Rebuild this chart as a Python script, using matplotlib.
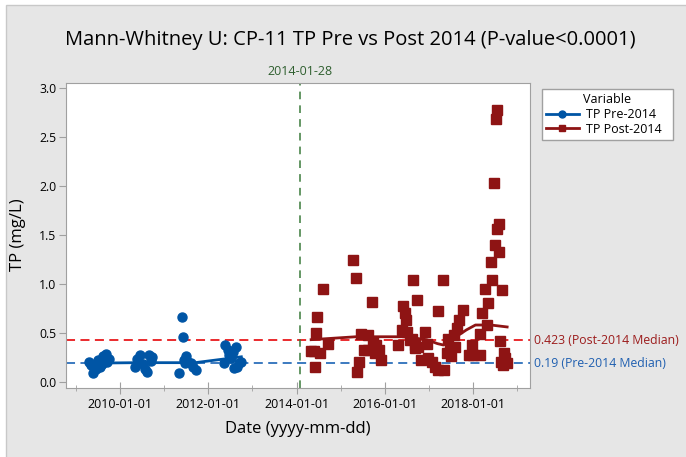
import matplotlib
matplotlib.use("Agg")
import matplotlib.pyplot as plt
import matplotlib.dates as mdates
import matplotlib.transforms as mtransforms
from matplotlib.lines import Line2D
from matplotlib.patches import Rectangle
import pandas as pd

plt.rcParams['font.family'] = ['Open Sans', 'DejaVu Sans']

# pre-2014 samples (blue circles)
pre_dates = ["2009-04-20", "2009-05-08", "2009-05-27", "2009-06-14", "2009-07-01",
             "2009-07-20", "2009-08-10", "2009-09-06", "2009-09-20", "2009-10-02", "2009-08-08",
             "2010-05-05", "2010-05-18", "2010-06-14", "2010-07-09", "2010-07-31",
             "2010-08-14", "2010-08-29", "2010-09-13", "2010-09-24",
             "2011-05-01", "2011-05-27", "2011-06-03", "2011-06-14", "2011-07-01",
             "2011-07-20", "2011-08-08", "2011-08-26", "2011-09-22", "2011-06-21",
             "2012-05-08", "2012-05-19", "2012-06-14", "2012-06-25", "2012-07-09",
             "2012-07-31", "2012-08-14", "2012-08-29", "2012-09-13", "2012-10-01", "2012-07-20"]
pre_vals = [0.20, 0.17, 0.09, 0.13, 0.22,
            0.15, 0.26, 0.28, 0.20, 0.23, 0.18,
            0.15, 0.23, 0.27, 0.18, 0.13,
            0.10, 0.27, 0.21, 0.25,
            0.09, 0.66, 0.46, 0.22, 0.26,
            0.20, 0.19, 0.15, 0.12, 0.19,
            0.19, 0.375, 0.32, 0.27, 0.24,
            0.14, 0.36, 0.15, 0.19, 0.20, 0.30]

# post-2014 samples (red squares)
post_dates = ["2014-05-01", "2014-05-27", "2014-06-03", "2014-06-10", "2014-06-17",
              "2014-07-16", "2014-08-04", "2014-09-16",
              "2015-04-12", "2015-05-04", "2015-05-15", "2015-05-30", "2015-06-21",
              "2015-07-16", "2015-08-14", "2015-08-18", "2015-09-16", "2015-09-23",
              "2015-10-08", "2015-10-23", "2015-11-10", "2015-11-28",
              "2016-04-19", "2016-05-18", "2016-06-01", "2016-06-12", "2016-06-27",
              "2016-06-29", "2016-07-26", "2016-08-10", "2016-08-17", "2016-09-04",
              "2016-09-06", "2016-09-26", "2016-10-03", "2016-10-29", "2016-11-24",
              "2016-12-12", "2016-12-26",
              "2017-01-22", "2017-02-20", "2017-03-14", "2017-03-18", "2017-04-23",
              "2017-04-30", "2017-05-26", "2017-06-10", "2017-06-20", "2017-07-01",
              "2017-07-23", "2017-08-03", "2017-08-18", "2017-09-02", "2017-10-12",
              "2017-11-25", "2017-12-20", "2018-01-01",
              "2018-02-27", "2018-02-28", "2018-03-14", "2018-04-12", "2018-04-27",
              "2018-05-04", "2018-05-26", "2018-06-02", "2018-06-24", "2018-07-02",
              "2018-07-09", "2018-07-12", "2018-07-16", "2018-07-31", "2018-08-02",
              "2018-08-14", "2018-08-16", "2018-08-29", "2018-09-05", "2018-09-09",
              "2018-09-23", "2018-10-08"]
post_vals = [0.31, 0.31, 0.15, 0.50, 0.66,
             0.29, 0.95, 0.39,
             1.24, 1.06, 0.10, 0.20, 0.49,
             0.32, 0.48, 0.32, 0.82, 0.41,
             0.29, 0.375, 0.32, 0.22,
             0.375, 0.53, 0.77, 0.70, 0.63,
             0.51, 0.43, 0.44, 1.04, 0.375,
             0.34, 0.84, 0.36, 0.22, 0.51,
             0.39, 0.24,
             0.20, 0.15, 0.72, 0.12, 1.04,
             0.12, 0.29, 0.44, 0.32, 0.26,
             0.48, 0.36, 0.55, 0.63, 0.73,
             0.27, 0.375, 0.27,
             0.49, 0.27, 0.70, 0.95, 0.58,
             0.81, 1.22, 1.04, 2.03, 1.40,
             2.69, 1.56, 2.78, 1.61, 1.33,
             0.42, 0.20, 0.94, 0.17, 0.29,
             0.24, 0.19]

# smoother lines
pre_fit_dates = ["2009-04-20", "2010-06-01", "2011-09-15", "2012-10-01"]
pre_fit_vals = [0.19, 0.195, 0.195, 0.255]
post_fit_dates = ["2014-05-01", "2015-05-07", "2016-06-12", "2016-12-12", "2017-03-10",
                  "2017-04-30", "2017-07-19", "2017-11-05", "2018-01-19", "2018-05-26", "2018-10-08"]
post_fit_vals = [0.43, 0.46, 0.46, 0.43, 0.39, 0.375, 0.44, 0.53, 0.58, 0.58, 0.56]

pre_median = 0.19
post_median = 0.423
split_date = "2014-01-28"

pre_color = '#0055a5'
post_color = '#8e1414'

fig = plt.figure(figsize=(6.86, 4.57), dpi=100)
fig.patch.set_facecolor('white')
# gray panel like the original window
fig.patches.append(Rectangle((6/686, -0.01), 1.1, 1.01 - 5/457, transform=fig.transFigure,
                             facecolor='#e6e6e6', edgecolor='#c8c8c8', lw=1, zorder=-10))

ax = fig.add_axes([66/686, 1 - 388/457, 464/686, 305/457])
ax.set_facecolor('white')

ax.plot(pd.to_datetime(pre_fit_dates), pre_fit_vals, color=pre_color, lw=2, zorder=3)
ax.plot(pd.to_datetime(post_fit_dates), post_fit_vals, color=post_color, lw=2, zorder=3)
ax.plot(pd.to_datetime(pre_dates), pre_vals, 'o', color=pre_color, ms=6.5, mec=pre_color, zorder=4)
ax.plot(pd.to_datetime(post_dates), post_vals, 's', color=post_color, ms=7, mec=post_color, zorder=4)

ax.axhline(post_median, color='#e8191c', lw=1.3, ls=(0, (5, 3)), zorder=2)
ax.axhline(pre_median, color='#2c6fbb', lw=1.3, ls=(0, (5, 3)), zorder=2)
split = pd.Timestamp(split_date)
ax.axvline(split, color='#3b7a3b', lw=1.1, ls=(0, (5, 4)), zorder=2)

trans = mtransforms.blended_transform_factory(ax.transAxes, ax.transData)
ax.text(1.009, post_median, "0.423 (Post-2014 Median)", transform=trans, color='#9c1c1c',
        fontsize=8.8, va='center', ha='left', clip_on=False)
ax.text(1.009, pre_median, "0.19 (Pre-2014 Median)", transform=trans, color='#1f5fb0',
        fontsize=8.8, va='center', ha='left', clip_on=False)
trans2 = mtransforms.blended_transform_factory(ax.transData, ax.transAxes)
ax.text(split, 1.015, "2014-01-28", transform=trans2, color='#2f5f2f', fontsize=9,
        ha='center', va='bottom')

ax.set_xlim(pd.Timestamp("2008-10-12"), pd.Timestamp("2019-04-15"))
ax.set_ylim(-0.064, 3.054)
ax.set_yticks([0.0, 0.5, 1.0, 1.5, 2.0, 2.5, 3.0])
ax.set_yticklabels(["0.0", "0.5", "1.0", "1.5", "2.0", "2.5", "3.0"])
ax.xaxis.set_major_locator(mdates.YearLocator(2))
ax.xaxis.set_minor_locator(mdates.YearLocator(1))
ax.xaxis.set_major_formatter(mdates.DateFormatter('%Y-%m-%d'))

for s in ax.spines.values():
    s.set_color('#a0a0a0')
ax.tick_params(axis='y', direction='out', length=5, color='#a0a0a0', labelsize=8.8, pad=2)
ax.tick_params(axis='x', which='major', direction='inout', length=9, color='#a0a0a0',
               labelsize=9, pad=3)
ax.tick_params(axis='x', which='minor', direction='inout', length=5, color='#a0a0a0')

fig.text(0.51, 1 - 40/457, "Mann-Whitney U: CP-11 TP Pre vs Post 2014 (P-value<0.0001)",
         ha='center', va='center', fontsize=14.5)
fig.text(18/686, 1 - 235/457, "TP (mg/L)", rotation=90, ha='center', va='center', fontsize=12)
fig.text(298/686, 1 - 429/457, "Date (yyyy-mm-dd)", ha='center', va='center', fontsize=12)

handles = [Line2D([], [], color=pre_color, lw=2, marker='o', ms=5),
           Line2D([], [], color=post_color, lw=2, marker='s', ms=5)]
leg = fig.legend(handles, ["TP Pre-2014", "TP Post-2014"], title="Variable",
                 loc='upper left',
                 bbox_to_anchor=(536/686, 1 - 139/457, 143/686, 56/457),
                 mode='expand', fontsize=9, title_fontsize=9,
                 handlelength=2.6, handletextpad=0.6, borderpad=0.3, labelspacing=0.15,
                 fancybox=False, framealpha=1, edgecolor='#a0a0a0')
leg.get_frame().set_linewidth(1)

fig.savefig("out.png", dpi=100)
